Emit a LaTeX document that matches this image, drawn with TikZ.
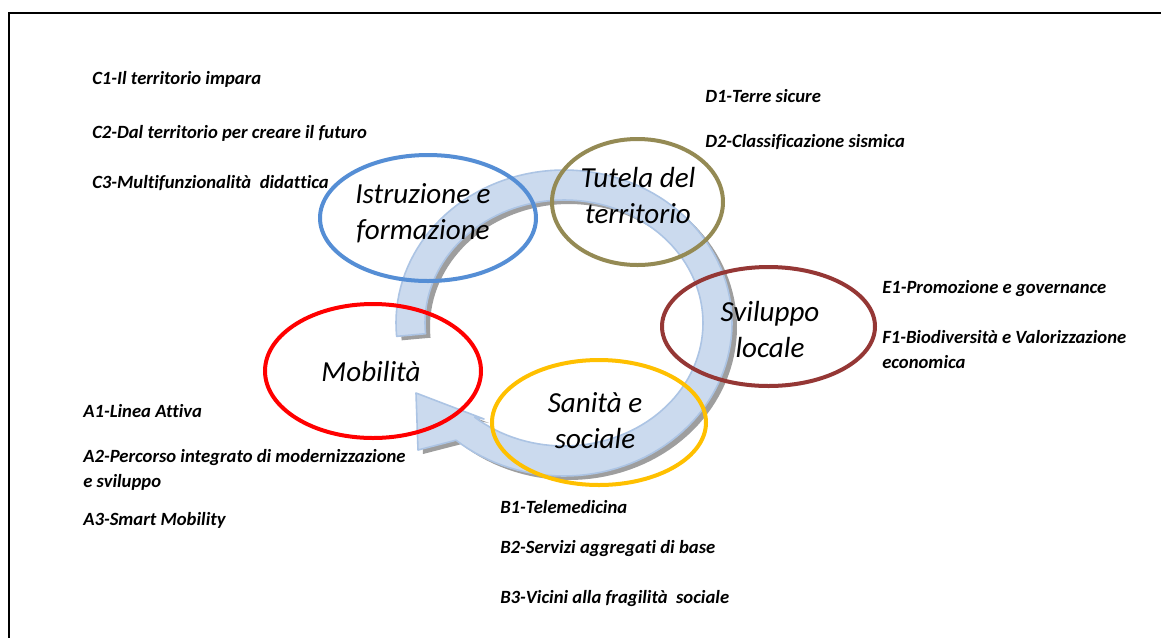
\documentclass[tikz,border=0pt]{standalone}
\usepackage{fontspec}
\setmainfont{Carlito}[Ligatures=NoCommon]
\usetikzlibrary{shapes.geometric}
\definecolor{cBlue}{RGB}{85,142,213}
\definecolor{cOlive}{RGB}{148,138,84}
\definecolor{cBrick}{RGB}{149,55,53}
\definecolor{cRed}{RGB}{255,0,0}
\definecolor{cGold}{RGB}{255,192,0}
\definecolor{bandFill}{RGB}{203,218,238}
\definecolor{bandEdge}{RGB}{172,196,228}
\definecolor{bandShade}{RGB}{158,158,158}
\begin{document}
\begin{tikzpicture}[x=0.75pt,y=-0.75pt,
  ring/.style={ellipse, draw, line width=3pt, inner sep=0pt},
  item/.style={anchor=base west, inner sep=0pt, align=left, font=\fontsize{14}{18.5}\selectfont\bfseries\itshape},
  topic/.style={anchor=base, inner sep=0pt, align=center, font=\fontsize{21.8}{27}\selectfont\itshape}]
\useasboundingbox (0,0) rectangle (1161,637);
\fill[white] (0,0) rectangle (1161,637);
\draw[line width=1.5pt] (9,640) -- (9,13) -- (1165,13);

% circular arrow: shadow
\begin{scope}[shift={(5,4)}]
\fill[bandShade] plot[domain=175:490,samples=120,variable=\t] ({564+168*cos(\t)},{323+153*sin(\t)})
  -- (418,450) -- (416,393) -- (484,419)
  -- plot[domain=490:175,samples=120,variable=\t] ({564+139*cos(\t)},{323+123*sin(\t)}) -- cycle;
\end{scope}
% circular arrow: body
\filldraw[fill=bandFill, draw=bandEdge, line width=1.2pt, line join=round]
  plot[domain=175:490,samples=120,variable=\t] ({564+168*cos(\t)},{323+153*sin(\t)})
  -- (418,450) -- (416,393) -- (484,419)
  -- plot[domain=490:175,samples=120,variable=\t] ({564+139*cos(\t)},{323+123*sin(\t)}) -- cycle;

% ellipses
\node[ring, draw=cBlue, minimum width=162pt, minimum height=94.5pt] (istr) at (428,218) {};
\node[ring, draw=cOlive, minimum width=128.25pt, minimum height=94.5pt] (tutela) at (637.5,202) {};
\node[ring, draw=cBrick, minimum width=159.75pt, minimum height=89.25pt] (svil) at (768.5,326.5) {};
\node[ring, draw=cRed, minimum width=162pt, minimum height=100.5pt] (mob) at (373,371) {};
\node[ring, draw=cGold, minimum width=160.5pt, minimum height=93.75pt] (san) at (599,422.5) {};

% topic labels (base = baseline of last line)
\node[topic] (tIstr) at (423,239) {Istruzione e\\formazione};
\node[topic] (tTut) at (638,223) {Tutela del\\territorio};
\node[topic] (tSvil) at (770,357) {Sviluppo\\locale};
\node[topic] (tMob) at (371,381) {Mobilità};
\node[topic] (tSan) at (595,448) {Sanità e\\sociale};

% item lists
\node[item] (c1) at (92,84) {C1-Il territorio impara};
\node[item] (c2) at (92,138) {C2-Dal territorio per creare il futuro};
\node[item] (c3) at (92,188) {C3-Multifunzionalità\ \ didattica};
\node[item] (d1) at (705,102) {D1-Terre sicure};
\node[item] (d2) at (705,147) {D2-Classificazione sismica};
\node[item] (e1) at (882,293) {E1-Promozione e governance};
\node[item] (f1) at (882,368) {F1-Biodiversità e Valorizzazione\\economica};
\node[item] (a1) at (83,417) {A1-Linea Attiva};
\node[item] (a2) at (83,487) {A2-Percorso integrato di modernizzazione\\e sviluppo};
\node[item] (a3) at (83,525) {A3-Smart Mobility};
\node[item] (b1) at (500,513) {B1-Telemedicina};
\node[item] (b2) at (500,553) {B2-Servizi aggregati di base};
\node[item] (b3) at (500,603) {B3-Vicini alla fragilità\ \ sociale};
\end{tikzpicture}
\end{document}
